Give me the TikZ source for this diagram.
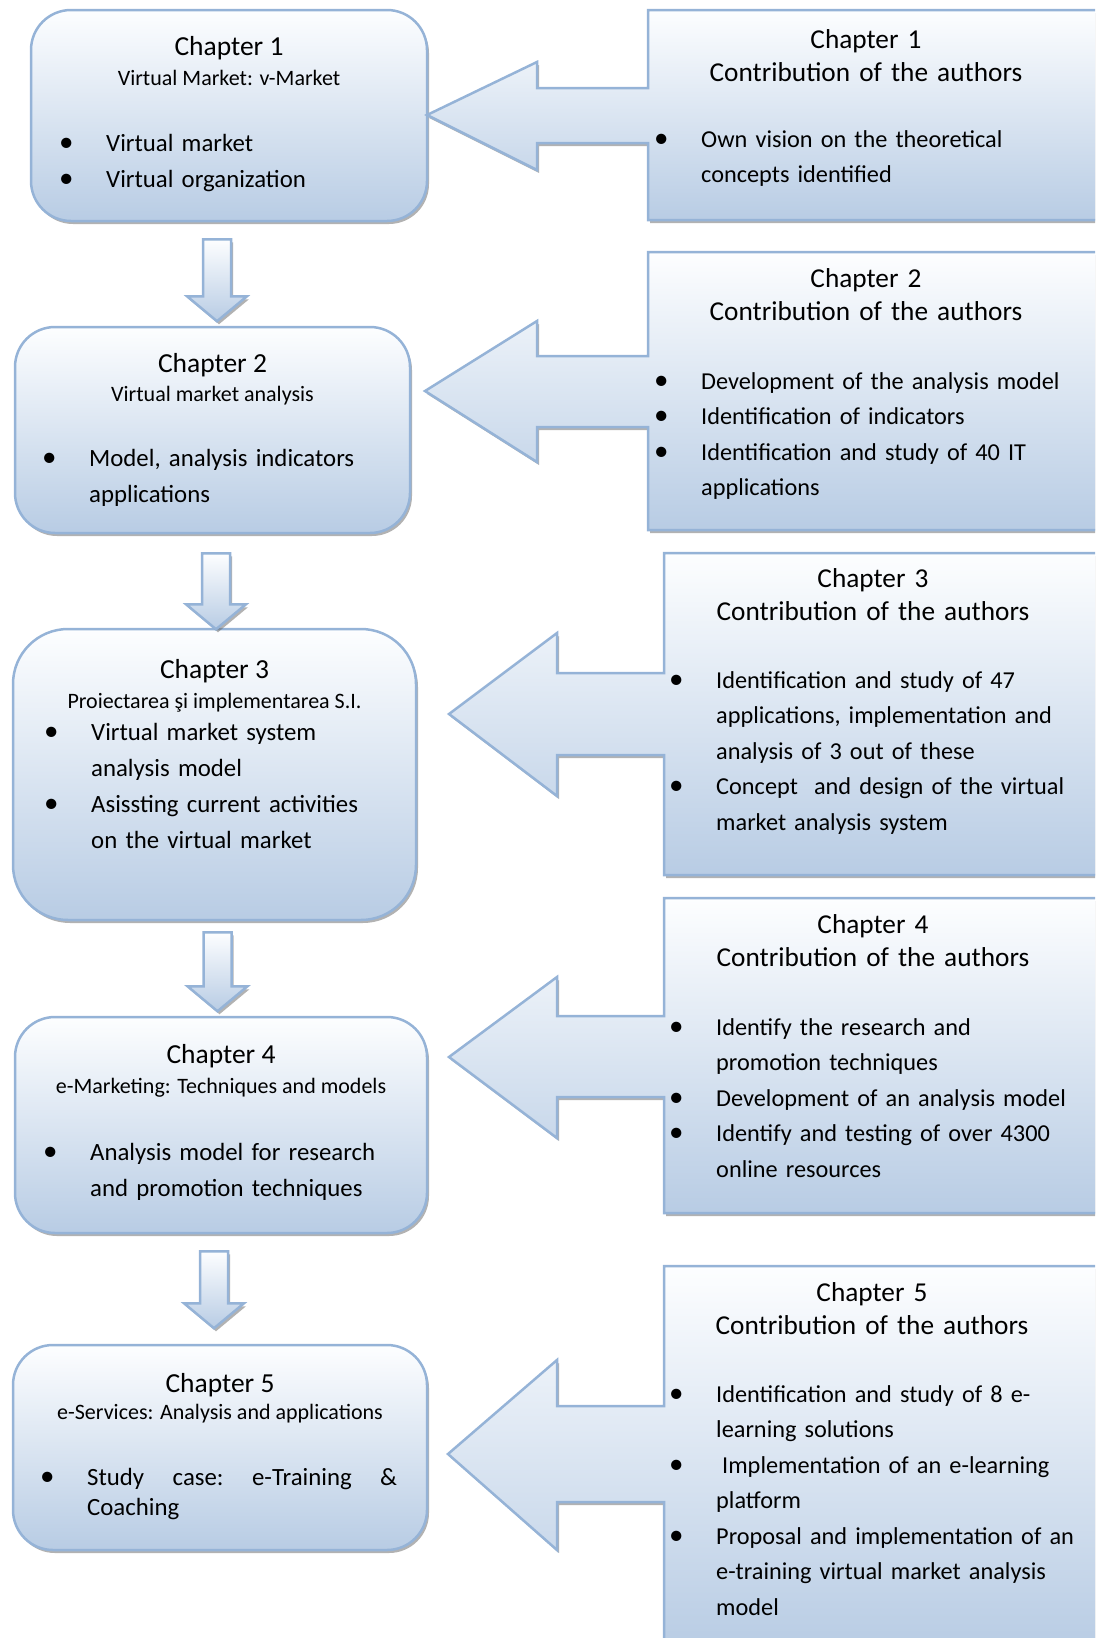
\documentclass[tikz,border=0pt]{standalone}
\usepackage{fontspec}
\setmainfont{Carlito}
\usetikzlibrary{shadows}

\definecolor{frameblue}{RGB}{149,179,215}
\definecolor{topwhite}{RGB}{253,254,255}
\definecolor{botblue}{RGB}{184,204,228}

\newlength{\bulind}
\newlength{\bulpos}
\newcommand{\bigbul}{{\fontsize{29}{29}\selectfont\textbullet}}
\newcommand{\bitem}[1]{\hangindent=\bulind\hangafter=1\noindent
  \makebox[\bulind][l]{\hspace{\bulpos}\bigbul}#1\par}

\tikzset{
  boxstyle/.style={draw=frameblue, line width=2.5pt, top color=topwhite, bottom color=botblue,
    drop shadow={shadow xshift=2pt, shadow yshift=-3pt, fill=black!60, opacity=.5}},
  chapbox/.style={boxstyle, rectangle, rounded corners=#1, inner sep=0pt},
  chaptitle/.style={font=\fontsize{27.5}{33}\selectfont, inner sep=0pt, anchor=base},
  chapsub/.style={font=\fontsize{22}{26}\selectfont, inner sep=0pt, anchor=base},
  contrib/.style={font=\fontsize{27.3}{33.5}\selectfont, text width=420pt, align=center,
    inner sep=0pt, anchor=base},
  leftlist/.style={font=\fontsize{24.8}{36}\selectfont, text width=420pt, inner sep=0pt,
    anchor=base west, execute at begin node={\setlength{\bulind}{75pt}\setlength{\bulpos}{28pt}}},
  rightlist/.style={font=\fontsize{24.3}{35.5}\selectfont, text width=520pt, inner sep=0pt,
    anchor=base west, execute at begin node={\setlength{\bulind}{52.5pt}\setlength{\bulpos}{5.5pt}}},
  downarr/.pic={\path[boxstyle] (-14,0) -- (14,0) -- (14,#1-25) -- (30,#1-25) -- (0,#1)
    -- (-30,#1-25) -- (-14,#1-25) -- cycle;}
}

\begin{document}
\begin{tikzpicture}[x=1pt,y=-1pt]
\useasboundingbox (0,0) rectangle (1095,1638);
\clip (0,0) rectangle (1095,1638);

% chapters
\node[chapbox=40pt, minimum width=396pt, minimum height=211pt] (c1) at (229,115.5) {};
\node[chapbox=40pt, minimum width=395pt, minimum height=206pt] (c2) at (212.5,430) {};
\node[chapbox=55pt, minimum width=403pt, minimum height=291pt] (c3) at (214.5,774.5) {};
\node[chapbox=40pt, minimum width=412pt, minimum height=216pt] (c4) at (221,1125) {};
\node[chapbox=40pt, minimum width=414pt, minimum height=205pt] (c5) at (220,1447.5) {};

\path (c1.south) ++(-12,17) pic {downarr=82};
\path (c2.south) ++(3.5,19) pic {downarr=76};
\path (c3.south) ++(3,11) pic {downarr=79};
\path (c4.south) ++(-7,17) pic {downarr=77};

\node[chaptitle] (c1t) at (229,55) {Chapter 1};
\node[chapsub] (c1s) at (229,85) {Virtual Market: v-Market};
\node[leftlist] (c1b) at (31,151) {\bitem{Virtual market}\bitem{Virtual organization}};

\node[chaptitle] (c2t) at (212.5,372) {Chapter 2};
\node[chapsub] (c2s) at (212.5,401) {Virtual market analysis};
\node[leftlist] (c2b) at (14,466) {\bitem{Model, analysis indicators\newline applications}};

\node[chaptitle] (c3t) at (214.5,678) {Chapter 3};
\node[chapsub] (c3s) at (214.5,708) {Proiectarea şi implementarea S.I.};
\node[leftlist] (c3b) at (16,740) {\bitem{Virtual market system\newline analysis model}%
  \bitem{Asissting current activities\newline on the virtual market}};

\node[chaptitle] (c4t) at (221,1063) {Chapter 4};
\node[chapsub] (c4s) at (221,1093) {e-Marketing: Techniques and models};
\node[leftlist] (c4b) at (15,1160) {\bitem{Analysis model for research\newline and promotion techniques}};

\node[chaptitle] (c5t) at (220,1392) {Chapter 5};
\node[chapsub] (c5s) at (220,1419) {e-Services: Analysis and applications};
\node[leftlist, font=\fontsize{24.8}{30}\selectfont] (c5b) at (12,1485)
  {\bitem{\makebox[310pt][l]{Study\hfill case:\hfill e-Training\hfill\&}\newline Coaching}};

% contributions
\path[boxstyle] (648,10) -- (1100,10) -- (1100,220) -- (648,220) -- (648,143) -- (537,143)
  -- (537,170) -- (427,115) -- (537,62) -- (537,88) -- (648,88) -- cycle;
\path[boxstyle] (648,252) -- (1100,252) -- (1100,530) -- (648,530) -- (648,427) -- (537,427)
  -- (537,462) -- (425,391) -- (537,321) -- (537,356) -- (648,356) -- cycle;
\path[boxstyle] (664,553) -- (1100,553) -- (1100,875) -- (664,875) -- (664,755) -- (557,755)
  -- (557,796) -- (449,714) -- (557,633) -- (557,673) -- (664,673) -- cycle;
\path[boxstyle] (664,898) -- (1100,898) -- (1100,1213) -- (664,1213) -- (664,1097) -- (557,1097)
  -- (557,1138) -- (449,1057) -- (557,977) -- (557,1016) -- (664,1016) -- cycle;
\path[boxstyle] (664,1266) -- (1100,1266) -- (1100,1650) -- (664,1650) -- (664,1502) -- (557,1502)
  -- (557,1550) -- (448,1454) -- (557,1360) -- (557,1406) -- (664,1406) -- cycle;

\node[contrib] (r1t) at (866,48) {Chapter 1\\Contribution of the authors};
\node[rightlist] (r1b) at (648.5,147) {\bitem{Own vision on the theoretical\newline concepts identified}};

\node[contrib] (r2t) at (866,287) {Chapter 2\\Contribution of the authors};
\node[rightlist] (r2b) at (648.5,389) {\bitem{Development of the analysis model}%
  \bitem{Identification of indicators}\bitem{Identification and study of 40 IT\newline applications}};

\node[contrib] (r3t) at (873,587) {Chapter 3\\Contribution of the authors};
\node[rightlist] (r3b) at (663.5,688) {\bitem{Identification and study of 47\newline
  applications, implementation and\newline analysis of 3 out of these}%
  \bitem{Concept\ \ and design of the virtual\newline market analysis system}};

\node[contrib] (r4t) at (873,933) {Chapter 4\\Contribution of the authors};
\node[rightlist] (r4b) at (663.5,1035) {\bitem{Identify the research and\newline promotion techniques}%
  \bitem{Development of an analysis model}\bitem{Identify and testing of over 4300\newline online resources}};

\node[contrib] (r5t) at (872,1301) {Chapter 5\\Contribution of the authors};
\node[rightlist] (r5b) at (663.5,1402) {\bitem{Identification and study of 8 e-\newline learning solutions}%
  \bitem{\hspace{6pt}Implementation of an e-learning\newline platform}%
  \bitem{Proposal and implementation of an\newline e-training virtual market analysis\newline model}};
\end{tikzpicture}
\end{document}
